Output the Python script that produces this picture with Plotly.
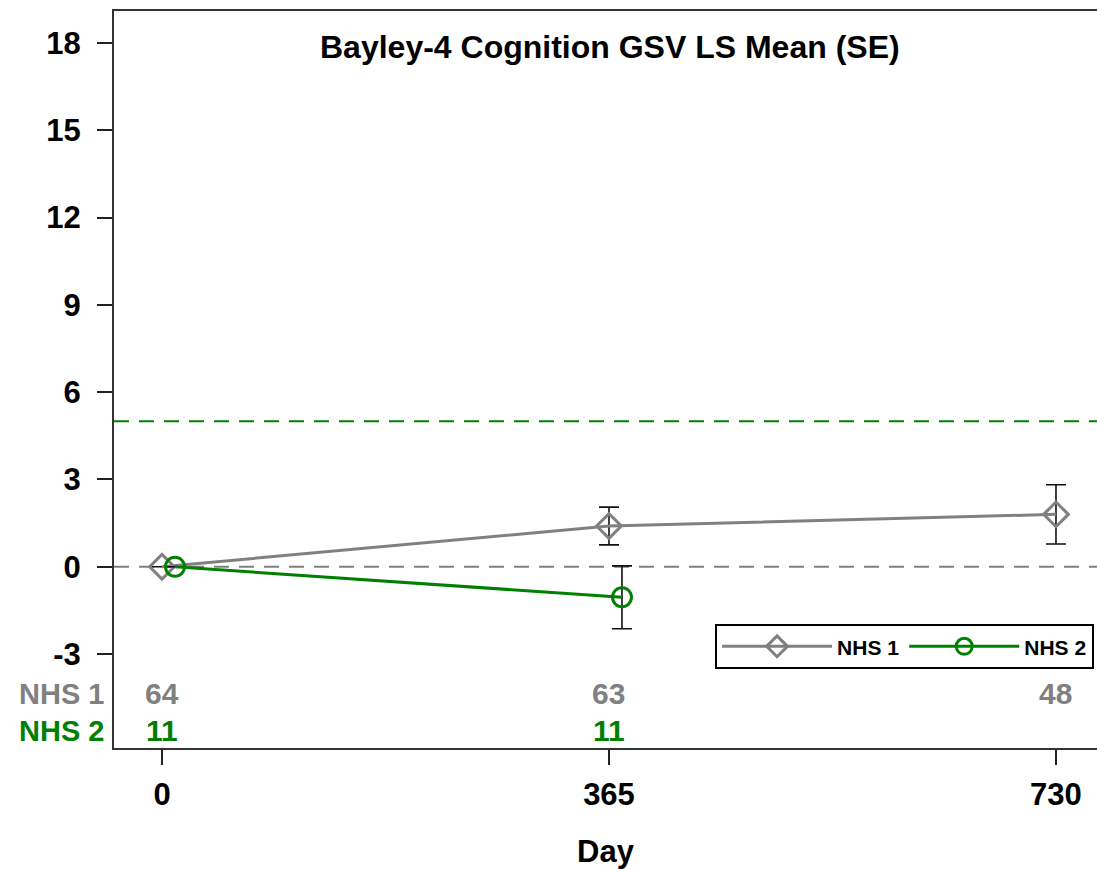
import plotly.graph_objects as go

# ---- data ----
days = [0, 365, 730]
nhs1_mean = [0.0, 1.4, 1.8]
nhs1_se = [0.0, 0.65, 1.02]
nhs2_days = [0, 365]
nhs2_mean = [0.0, -1.05]
nhs2_se = [0.0, 1.08]
nhs1_n = [64, 63, 48]
nhs2_n = [11, 11]
ref_zero = 0
ref_green = 5
y_ticks = [-3, 0, 3, 6, 9, 12, 15, 18]
x_ticks = [0, 365, 730]
series_names = ["NHS 1", "NHS 2"]
title_text = "Bayley-4 Cognition GSV LS Mean (SE)"
x_title = "Day"

GRAY = "#808080"
GREEN = "#008000"
FONT = "Liberation Sans, Arial, sans-serif"
nhs2_offset = 10.6  # horizontal dodge in days

fig = go.Figure()

fig.add_trace(go.Scatter(
    x=days, y=nhs1_mean, name=series_names[0], mode="lines+markers",
    line=dict(color=GRAY, width=3),
    marker=dict(symbol="diamond-open", size=19, color=GRAY, line=dict(width=3, color=GRAY)),
    error_y=dict(type="data", array=nhs1_se, color="#111111", thickness=1.6, width=10),
))
fig.add_trace(go.Scatter(
    x=[d + nhs2_offset for d in nhs2_days], y=nhs2_mean, name=series_names[1], mode="lines+markers",
    line=dict(color=GREEN, width=3),
    marker=dict(symbol="circle-open", size=19, color=GREEN, line=dict(width=3, color=GREEN)),
    error_y=dict(type="data", array=nhs2_se, color="#111111", thickness=1.6, width=10),
))

# reference lines
fig.add_shape(type="line", xref="paper", x0=0, x1=1, yref="y", y0=ref_zero, y1=ref_zero,
              line=dict(color=GRAY, width=2, dash="15px,10px"), layer="below")
fig.add_shape(type="line", xref="paper", x0=0, x1=1, yref="y", y0=ref_green, y1=ref_green,
              line=dict(color=GREEN, width=2, dash="15px,10px"), layer="below")

# counts rows
row_y = [0.0733, 0.0231]
for d, n in zip(days, nhs1_n):
    fig.add_annotation(x=d, y=row_y[0], xref="x", yref="paper", yanchor="middle", text=str(n),
                       showarrow=False, font=dict(family=FONT, size=30, color=GRAY, weight="bold"))
for d, n in zip(nhs2_days, nhs2_n):
    fig.add_annotation(x=d, y=row_y[1], xref="x", yref="paper", yanchor="middle", text=str(n),
                       showarrow=False, font=dict(family=FONT, size=30, color=GREEN, weight="bold"))
fig.add_annotation(x=0, y=row_y[0], xref="paper", yref="paper", xanchor="right", yanchor="middle",
                   xshift=-8, text=series_names[0], showarrow=False,
                   font=dict(family=FONT, size=29, color=GRAY, weight="bold"))
fig.add_annotation(x=0, y=row_y[1], xref="paper", yref="paper", xanchor="right", yanchor="middle",
                   xshift=-8, text=series_names[1], showarrow=False,
                   font=dict(family=FONT, size=29, color=GREEN, weight="bold"))

# title inside plot
fig.add_annotation(x=0.505, y=0.951, xref="paper", yref="paper", yanchor="middle", text=title_text,
                   showarrow=False, font=dict(family=FONT, size=32, color="black", weight="bold"))

fig.update_layout(
    width=1097, height=869,
    margin=dict(l=114, r=0, t=11, b=121),
    paper_bgcolor="white", plot_bgcolor="white",
    font=dict(family=FONT, size=31, color="black", weight="bold"),
    showlegend=True,
    legend=dict(orientation="h", x=0.997, xanchor="right", y=0.168, yanchor="top",
                bgcolor="white", bordercolor="black", borderwidth=2,
                font=dict(family=FONT, size=21, color="black", weight="bold"),
                itemwidth=110, traceorder="normal", tracegroupgap=0),
)
fig.update_xaxes(
    range=[-39.2, 763.5], tickvals=x_ticks, ticktext=[str(t) for t in x_ticks],
    showgrid=False, zeroline=False, showline=True, linecolor="#333333", linewidth=2,
    mirror=True, ticks="outside", ticklen=15, tickwidth=1.5, tickcolor="#222222",
    ticklabelstandoff=3,
    title=dict(text=x_title, standoff=30, font=dict(family=FONT, size=31, weight="bold")),
)
fig.update_yaxes(
    range=[-6.23, 19.1], tickvals=y_ticks, ticktext=[str(t) for t in y_ticks],
    showgrid=False, zeroline=False, showline=True, linecolor="#333333", linewidth=2,
    mirror=False, ticks="outside", ticklen=15, tickwidth=1.5, tickcolor="#222222",
    ticklabelstandoff=10,
)

fig.write_html("out.html")
